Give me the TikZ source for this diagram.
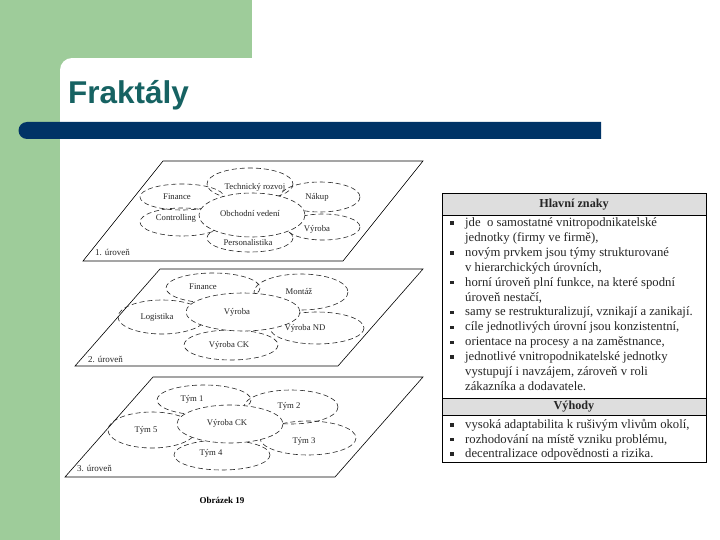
\documentclass[tikz,border=0pt]{standalone}
\usepackage{fontspec}
\setmainfont{Liberation Serif}
\newfontfamily\titlefont{Liberation Sans}
\usetikzlibrary{shapes.geometric}
\definecolor{slidegreen}{RGB}{158,204,154}
\definecolor{barblue}{RGB}{0,51,102}
\definecolor{titleteal}{RGB}{22,98,98}
\definecolor{headgray}{RGB}{222,222,222}
\begin{document}
\begin{tikzpicture}[x=1pt,y=-1pt,
  plane/.style={draw=black, line width=0.6pt},
  orb/.style={draw=black!85, line width=0.6pt, dash pattern=on 5pt off 3pt},
  core/.style={orb, fill=white},
  lbl/.style={font=\fontsize{8.7}{10}\selectfont, inner sep=0pt, text=black!85},
  lvl/.style={font=\fontsize{9}{10}\selectfont, inner sep=0pt, anchor=west, text=black!85},
  row/.style={anchor=base west, inner sep=0pt, font=\fontsize{12.7}{14}\selectfont, text=black!85},
  headtxt/.style={inner sep=0pt, font=\bfseries\fontsize{12.2}{14}\selectfont, text=black!85},
  bul/.style={fill=black!85, inner sep=0pt, minimum size=3.4pt},
]
\useasboundingbox (0,0) rectangle (720,540);
\fill[white] (0,0) rectangle (720,540);
% slide background
\fill[slidegreen] (0,0) rectangle (252,58);
\fill[slidegreen] (0,0) rectangle (60,540);
\fill[slidegreen] (60,58) rectangle (72,70);
\fill[white] (72,70) -- (60,70) arc[start angle=180,end angle=270,radius=12] -- cycle;
\node[anchor=base west, font=\titlefont\bfseries\fontsize{31.5}{32}\selectfont, text=titleteal, inner sep=0pt] (title) at (68,104) {Fraktály};
\fill[barblue] (601,122) -- (27,122) arc[start angle=270,end angle=90,radius=8.5] -- (601,139) -- cycle;

% ---- plane 1
\draw[plane] (163,161) -- (423,161) -- (343,261) -- (83,261) -- cycle;
\draw[orb] (182,197) ellipse [x radius=42, y radius=13];
\draw[orb] (250,184) ellipse [x radius=43, y radius=16];
\draw[orb] (320,197) ellipse [x radius=40, y radius=15];
\draw[orb] (182,222) ellipse [x radius=42, y radius=14];
\draw[orb] (323,227) ellipse [x radius=37, y radius=13];
\draw[orb] (250,238) ellipse [x radius=43, y radius=14];
\draw[core] (252,215) ellipse [x radius=53, y radius=22];
\node[lbl] (p1fin) at (177,197) {Finance};
\node[lbl] (p1tech) at (255,187) {Technický rozvoj};
\node[lbl] (p1nak) at (317,197) {Nákup};
\node[lbl] (p1con) at (176,218) {Controlling};
\node[lbl] (p1obch) at (250,214) {Obchodní vedení};
\node[lbl] (p1vyr) at (317,229) {Výroba};
\node[lbl] (p1pers) at (248,243) {Personalistika};
\node[lvl] (p1lvl) at (95,252) {1. úroveň};

% ---- plane 2
\draw[plane] (160,269) -- (423,269) -- (338,366) -- (75,366) -- cycle;
\draw[orb] (213,288) ellipse [x radius=47, y radius=15];
\draw[orb] (301,292) ellipse [x radius=47, y radius=18];
\draw[orb] (162,317) ellipse [x radius=44, y radius=17];
\draw[orb] (317,328) ellipse [x radius=47, y radius=16];
\draw[orb] (231,345) ellipse [x radius=47, y radius=15];
\draw[core] (243,312) ellipse [x radius=57, y radius=19];
\node[lbl] (p2fin) at (203,287) {Finance};
\node[lbl] (p2mon) at (299,292) {Montáž};
\node[lbl] (p2vyr) at (237,312) {Výroba};
\node[lbl] (p2log) at (157,317) {Logistika};
\node[lbl] (p2nd) at (305,328) {Výroba ND};
\node[lbl] (p2ck) at (229,345) {Výroba CK};
\node[lvl] (p2lvl) at (88,359) {2. úroveň};

% ---- plane 3
\draw[plane] (153,377) -- (423,377) -- (335,477) -- (65,477) -- cycle;
\draw[orb] (204,400) ellipse [x radius=47, y radius=15];
\draw[orb] (291,407) ellipse [x radius=47, y radius=17];
\draw[orb] (152,430) ellipse [x radius=44, y radius=18];
\draw[orb] (308,438) ellipse [x radius=48, y radius=17];
\draw[orb] (222,455) ellipse [x radius=48, y radius=15];
\draw[core] (230,424) ellipse [x radius=53, y radius=19];
\node[lbl] (p3t1) at (192,399) {Tým 1};
\node[lbl] (p3t2) at (289,406) {Tým 2};
\node[lbl] (p3ck) at (227,423) {Výroba CK};
\node[lbl] (p3t5) at (146,430) {Tým 5};
\node[lbl] (p3t3) at (304,441) {Tým 3};
\node[lbl] (p3t4) at (211,453) {Tým 4};
\node[lvl] (p3lvl) at (77,468) {3. úroveň};

\node[inner sep=0pt, font=\bfseries\fontsize{9}{10}\selectfont] (caption) at (222,500) {Obrázek 19};

% ---- table
\fill[headgray] (442,193) rectangle (706,215);
\fill[headgray] (442,398) rectangle (706,415);
\draw[line width=0.8pt] (442,193) rectangle (706,462);
\draw[line width=0.8pt] (442,215) -- (706,215);
\draw[line width=0.8pt] (442,398) -- (706,398);
\draw[line width=0.8pt] (442,415) -- (706,415);
\node[headtxt] (hdr1) at (574,205) {Hlavní znaky};
\node[headtxt] (hdr2) at (574,407) {Výhody};

\node[row] (r1) at (465,226.5) {jde\ \ o samostatné vnitropodnikatelské};
\node[row] (r2) at (465,241.4) {jednotky (firmy ve firmě),};
\node[row] (r3) at (465,256.3) {novým prvkem jsou týmy strukturované};
\node[row] (r4) at (465,271.2) {v hierarchických úrovních,};
\node[row] (r5) at (465,286.1) {horní úroveň plní funkce, na které spodní};
\node[row] (r6) at (465,301.0) {úroveň nestačí,};
\node[row] (r7) at (465,315.9) {samy se restrukturalizují, vznikají a zanikají.};
\node[row] (r8) at (465,330.8) {cíle jednotlivých úrovní jsou konzistentní,};
\node[row] (r9) at (465,345.7) {orientace na procesy a na zaměstnance,};
\node[row] (r10) at (465,360.6) {jednotlivé vnitropodnikatelské jednotky};
\node[row] (r11) at (465,375.5) {vystupují i navzájem, zároveň v roli};
\node[row] (r12) at (465,390.4) {zákazníka a dodavatele.};
\node[row] (r13) at (465,428.5) {vysoká adaptabilita k rušivým vlivům okolí,};
\node[row] (r14) at (465,443.0) {rozhodování na místě vzniku problému,};
\node[row] (r15) at (465,457.5) {decentralizace odpovědnosti a rizika.};

\foreach \yy [count=\k] in {223,252.8,282.6,312.4,327.3,342.2,357.1,425,439.5,454}
  \node[bul] (b\k) at (452,\yy) {};
\end{tikzpicture}
\end{document}
